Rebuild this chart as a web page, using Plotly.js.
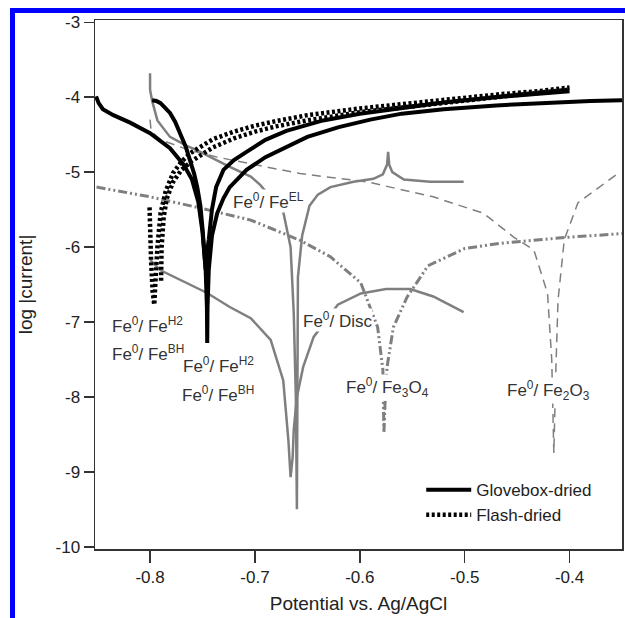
<!DOCTYPE html>
<html>
<head>
<meta charset="utf-8">
<script src="https://cdn.plot.ly/plotly-3.0.1.min.js"></script>
<style>
  html, body { margin: 0; padding: 0; background: #fff; }
  #chart { position: absolute; left: 0; top: 0; width: 625px; height: 618px; }
  .blue { position: absolute; background: #0000ff; z-index: 10; }
</style>
</head>
<body>
<div id="chart"></div>
<div class="blue" style="left:10px;top:8px;width:5px;height:610px;"></div>
<div class="blue" style="left:10px;top:8px;width:615px;height:5px;"></div>
<script>
// ---- Data ----
// Glovebox-dried (solid black), two curves
const gloveA_x = [-0.8515,-0.849,-0.845,-0.835,-0.819,-0.800,-0.781,-0.768,-0.760,-0.754,-0.750,-0.747,-0.7458,-0.7455,-0.7452,-0.744,-0.741,-0.736,-0.730,-0.724,-0.708,-0.690,-0.670,-0.650,-0.620,-0.590,-0.560,-0.520,-0.470,-0.420,-0.380,-0.350];
const gloveA_y = [-3.99,-4.08,-4.16,-4.24,-4.34,-4.48,-4.68,-4.90,-5.10,-5.40,-5.80,-6.30,-6.80,-7.28,-6.80,-6.30,-5.85,-5.55,-5.35,-5.20,-4.97,-4.80,-4.66,-4.53,-4.40,-4.30,-4.22,-4.16,-4.11,-4.07,-4.05,-4.04];
const gloveB_x = [-0.798,-0.794,-0.790,-0.786,-0.781,-0.776,-0.771,-0.766,-0.762,-0.758,-0.755,-0.752,-0.750,-0.748,-0.747,-0.7455,-0.744,-0.741,-0.737,-0.730,-0.720,-0.708,-0.690,-0.670,-0.635,-0.600,-0.560,-0.520,-0.470,-0.430,-0.400];
const gloveB_y = [-4.04,-4.05,-4.08,-4.13,-4.21,-4.33,-4.48,-4.66,-4.84,-5.02,-5.20,-5.45,-5.75,-6.05,-6.30,-6.05,-5.90,-5.50,-5.20,-4.97,-4.84,-4.73,-4.57,-4.45,-4.31,-4.22,-4.14,-4.07,-4.00,-3.95,-3.92];
// Flash-dried (dotted black), two curves
const flashA_x = [-0.8005,-0.8000,-0.7990,-0.7975,-0.7960,-0.7950,-0.7930,-0.7900,-0.7850,-0.7780,-0.7700,-0.7620,-0.7500,-0.7400,-0.7200,-0.7000,-0.6800,-0.6500,-0.6000,-0.5600,-0.5000,-0.4660,-0.4300,-0.4000];
const flashA_y = [-5.47,-5.80,-6.20,-6.60,-6.77,-6.50,-6.00,-5.55,-5.25,-5.01,-4.86,-4.75,-4.64,-4.56,-4.46,-4.38,-4.32,-4.24,-4.15,-4.09,-4.00,-3.96,-3.92,-3.87];
const flashB_x = [-0.7895,-0.7890,-0.7870,-0.7840,-0.7780,-0.7700,-0.7600,-0.7400,-0.7200,-0.7000,-0.6800,-0.6500,-0.6000,-0.5500,-0.5000,-0.4500,-0.4000];
const flashB_y = [-6.45,-6.00,-5.60,-5.35,-5.13,-4.97,-4.85,-4.67,-4.55,-4.46,-4.39,-4.31,-4.20,-4.12,-4.04,-3.97,-3.90];
// Fe0/FeEL (solid grey)
const feEL_x = [-0.8000,-0.8000,-0.7980,-0.7930,-0.7810,-0.7650,-0.7550,-0.7240,-0.7040,-0.6950,-0.6730,-0.6660,-0.6630,-0.6610,-0.6600,-0.6595,-0.6590,-0.6550,-0.6480,-0.6400,-0.6280,-0.6060,-0.5870,-0.5780,-0.5740,-0.5730,-0.5720,-0.5690,-0.5580,-0.5330,-0.5010];
const feEL_y = [-3.68,-3.90,-4.05,-4.31,-4.53,-4.65,-4.71,-4.93,-5.06,-5.17,-5.53,-6.00,-6.88,-8.00,-9.50,-8.00,-6.40,-5.85,-5.45,-5.30,-5.20,-5.13,-5.09,-5.03,-4.90,-4.73,-4.90,-5.00,-5.10,-5.13,-5.13];
// Fe0/Disc (solid grey)
const disc_x = [-0.8000,-0.7900,-0.7460,-0.7240,-0.7040,-0.6850,-0.6730,-0.6680,-0.6660,-0.6640,-0.6630,-0.6600,-0.6540,-0.6440,-0.6210,-0.5990,-0.5750,-0.5520,-0.5300,-0.5010];
const disc_y = [-6.17,-6.31,-6.61,-6.80,-6.95,-7.24,-7.78,-8.60,-9.07,-8.80,-8.44,-8.00,-7.60,-7.20,-6.77,-6.62,-6.56,-6.56,-6.66,-6.87];
// Fe0/Fe3O4 (grey dash-dot-dot)
const fe3o4_x = [-0.8510,-0.8000,-0.7520,-0.7040,-0.6570,-0.6280,-0.5990,-0.5830,-0.5780,-0.5770,-0.5760,-0.5740,-0.5680,-0.5550,-0.5350,-0.5000,-0.4660,-0.4020,-0.3490];
const fe3o4_y = [-5.20,-5.33,-5.48,-5.64,-5.91,-6.13,-6.48,-7.07,-7.64,-8.48,-8.10,-7.60,-7.07,-6.67,-6.25,-6.02,-5.95,-5.87,-5.82];
// Fe0/Fe2O3 (grey dashed)
const fe2o3_x = [-0.8000,-0.7990,-0.7900,-0.7620,-0.7360,-0.7000,-0.6570,-0.5930,-0.5300,-0.4820,-0.4530,-0.4340,-0.4210,-0.4170,-0.4150,-0.4130,-0.4110,-0.4050,-0.3920,-0.3540];
const fe2o3_y = [-4.30,-4.45,-4.57,-4.71,-4.80,-4.90,-5.02,-5.13,-5.33,-5.55,-5.87,-6.04,-6.62,-7.50,-8.75,-7.60,-6.71,-5.90,-5.41,-5.02];

// Tick values / labels
const xTicks = [-0.8,-0.7,-0.6,-0.5,-0.4];
const xTickText = ['-0.8','-0.7','-0.6','-0.5','-0.4'];
const yTicks = [-10,-9,-8,-7,-6,-5,-4,-3];
const yTickText = ['-10','-9','-8','-7','-6','-5','-4','-3'];

const GREY = '#7f7f7f';
const FONT = 'Arial, "Liberation Sans", Helvetica, sans-serif';

const traces = [
  {x: disc_x, y: disc_y, mode:'lines', line:{color:GREY, width:2.5}, showlegend:false, hoverinfo:'skip'},
  {x: feEL_x, y: feEL_y, mode:'lines', line:{color:GREY, width:2.5}, showlegend:false, hoverinfo:'skip'},
  {x: fe3o4_x, y: fe3o4_y, mode:'lines', line:{color:GREY, width:3, dash:'9px,3px,2px,3px,2px,3px'}, showlegend:false, hoverinfo:'skip'},
  {x: fe2o3_x, y: fe2o3_y, mode:'lines', line:{color:GREY, width:1.5, dash:'9px,6px'}, showlegend:false, hoverinfo:'skip'},
  {x: gloveA_x, y: gloveA_y, mode:'lines', name:'Glovebox-dried', legendrank:1, line:{color:'#000', width:4}},
  {x: gloveB_x, y: gloveB_y, mode:'lines', name:'Glovebox-dried', showlegend:false, line:{color:'#000', width:4}},
  {x: flashA_x, y: flashA_y, mode:'lines', name:'Flash-dried', legendrank:2, line:{color:'#000', width:4.5, dash:'3px,2.5px'}},
  {x: flashB_x, y: flashB_y, mode:'lines', name:'Flash-dried', showlegend:false, line:{color:'#000', width:4.5, dash:'3px,2.5px'}}
];

function lab(text, x, y) {
  return {text: text, x: x, y: y, xref:'x', yref:'y', showarrow:false,
          font:{family:FONT, size:17, color:'#333'}, bgcolor:'#ffffff', borderpad:0,
          xanchor:'center', yanchor:'middle'};
}

const layout = {
  width: 625, height: 618,
  margin: {l:95, r:3, t:20, b:69},
  paper_bgcolor:'#fff', plot_bgcolor:'#fff',
  font: {family: FONT, size: 17, color:'#222'},
  showlegend: true,
  legend: {x:0.619, y:0.03, xanchor:'left', yanchor:'bottom', itemwidth:45, bgcolor:'rgba(0,0,0,0)', font:{size:17, color:'#222'}, tracegroupgap:0, traceorder:'normal'},
  xaxis: {
    range:[-0.8525,-0.35], tickvals:xTicks, ticktext:xTickText,
    showgrid:false, zeroline:false, showline:true, mirror:true, linecolor:'#333', linewidth:1.5,
    ticks:'outside', ticklen:12, tickwidth:1.5, tickcolor:'#333',
    title:{text:'Potential vs. Ag/AgCl', font:{size:19, color:'#222'}, standoff:11}
  },
  yaxis: {
    range:[-10.03,-2.97], tickvals:yTicks, ticktext:yTickText,
    showgrid:false, zeroline:false, showline:true, mirror:true, linecolor:'#333', linewidth:1.5,
    ticks:'outside', ticklen:10, tickwidth:1.5, tickcolor:'#333',
    title:{text:'log |current|', font:{size:19, color:'#222'}, standoff:18}
  },
  annotations: [
    lab('Fe<sup>0</sup>/ Fe<sup>EL</sup>', -0.6874, -5.39),
    lab('Fe<sup>0</sup>/ Fe<sup>H2</sup>', -0.802, -7.04),
    lab('Fe<sup>0</sup>/ Fe<sup>BH</sup>', -0.802, -7.41),
    lab('Fe<sup>0</sup>/ Fe<sup>H2</sup>', -0.735, -7.57),
    lab('Fe<sup>0</sup>/ Fe<sup>BH</sup>', -0.735, -7.96),
    lab('Fe<sup>0</sup>/ Disc', -0.621, -6.97),
    lab('Fe<sup>0</sup>/ Fe<sub>3</sub>O<sub>4</sub>', -0.574, -7.88),
    lab('Fe<sup>0</sup>/ Fe<sub>2</sub>O<sub>3</sub>', -0.420, -7.92)
  ]
};

Plotly.newPlot('chart', traces, layout, {staticPlot:true, displayModeBar:false});
</script>
</body>
</html>
